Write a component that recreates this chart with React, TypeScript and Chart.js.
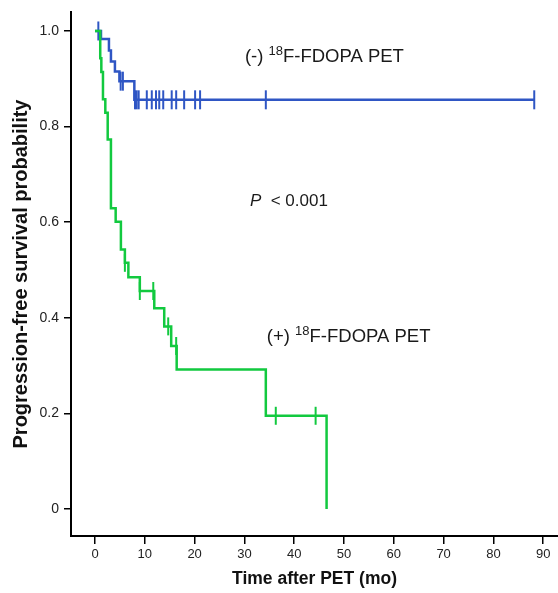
import React, { useEffect, useRef } from "react";
import { Chart, registerables } from "chart.js";

Chart.register(...registerables);

// (-) 18F-FDOPA PET group (blue)
const negTimes = [0, 1.2, 2.8, 3.2, 4.0, 4.9, 7.9, 88.2];
const negSurv = [1.0, 0.983, 0.959, 0.936, 0.915, 0.895, 0.856, 0.856];
const negCensored = [0.67, 5.15, 5.6, 8.03, 8.37, 8.77, 10.4, 11.4, 12.25, 12.9, 13.7, 15.4, 16.3, 17.9, 20.1, 21.1, 34.3, 88.2];

// (+) 18F-FDOPA PET group (green)
const posTimes = [0, 1.05, 1.27, 1.6, 2.07, 2.55, 3.2, 4.15, 5.2, 6.0, 6.7, 9.0, 11.9, 13.9, 15.3, 16.4, 34.3, 46.5];
const posSurv = [1.0, 0.943, 0.914, 0.857, 0.829, 0.773, 0.629, 0.601, 0.543, 0.515, 0.485, 0.456, 0.42, 0.382, 0.341, 0.292, 0.195, 0.0];
const posCensored = [6.0, 9.0, 11.7, 14.7, 16.3, 36.3, 44.3];

const xTicks = [0, 10, 20, 30, 40, 50, 60, 70, 80, 90];
const yTicks = [0, 0.2, 0.4, 0.6, 0.8, 1.0];
const yTickLabels = ["0", "0.2", "0.4", "0.6", "0.8", "1.0"];

const BLUE = "#2f56c4";
const GREEN = "#12c93f";
const FONT = "'Liberation Sans', Arial, sans-serif";

function survAt(times: number[], surv: number[], t: number) {
  let s = surv[0];
  for (let i = 0; i < times.length; i++) {
    if (times[i] <= t) s = surv[i];
  }
  return s;
}

type Part = { text: string; size: number; rise?: number; italic?: boolean };

const annotations: { x: number; y: number; parts: Part[] }[] = [
  {
    x: 30.1,
    y: 0.935,
    parts: [
      { text: "(-) ", size: 18.5 },
      { text: "18", size: 13, rise: 7 },
      { text: "F-FDOPA PET", size: 18.5 },
    ],
  },
  {
    x: 31.1,
    y: 0.634,
    parts: [
      { text: "P", size: 17, italic: true },
      { text: "  < 0.001", size: 17 },
    ],
  },
  {
    x: 34.5,
    y: 0.349,
    parts: [
      { text: "(+) ", size: 18.5 },
      { text: "18", size: 13, rise: 7 },
      { text: "F-FDOPA PET", size: 18.5 },
    ],
  },
];

const annotationPlugin = {
  id: "kmAnnotations",
  afterDraw(chart: any) {
    const { ctx, scales } = chart;
    ctx.save();
    ctx.fillStyle = "#1a1a1a";
    ctx.textBaseline = "alphabetic";
    ctx.textAlign = "left";
    for (const a of annotations) {
      let x = scales.x.getPixelForValue(a.x);
      const y = scales.y.getPixelForValue(a.y);
      for (const p of a.parts) {
        ctx.font = `${p.italic ? "italic " : ""}${p.size}px ${FONT}`;
        ctx.fillText(p.text, x, y - (p.rise || 0));
        x += ctx.measureText(p.text).width;
      }
    }
    ctx.restore();
  },
};

export default function App() {
  const ref = useRef<HTMLCanvasElement | null>(null);

  useEffect(() => {
    if (!ref.current) return;
    const negLine = negTimes.map((t, i) => ({ x: t, y: negSurv[i] }));
    const posLine = posTimes.map((t, i) => ({ x: t, y: posSurv[i] }));
    const negCens = negCensored.map((t) => ({ x: t, y: survAt(negTimes, negSurv, t) }));
    const posCens = posCensored.map((t) => ({ x: t, y: survAt(posTimes, posSurv, t) }));

    const chart = new Chart(ref.current, {
      type: "line",
      data: {
        datasets: [
          {
            data: posLine,
            borderColor: GREEN,
            borderWidth: 2.5,
            stepped: "before",
            pointRadius: 0,
            fill: false,
          },
          {
            type: "scatter",
            data: posCens,
            showLine: false,
            pointStyle: "line",
            rotation: 90,
            pointRadius: 9,
            borderColor: GREEN,
            backgroundColor: GREEN,
            pointBorderWidth: 2,
          },
          {
            data: negLine,
            borderColor: BLUE,
            borderWidth: 2.5,
            stepped: "before",
            pointRadius: 0,
            fill: false,
          },
          {
            type: "scatter",
            data: negCens,
            showLine: false,
            pointStyle: "line",
            rotation: 90,
            pointRadius: 9.5,
            borderColor: BLUE,
            backgroundColor: BLUE,
            pointBorderWidth: 2,
          },
        ] as any,
      },
      plugins: [annotationPlugin],
      options: {
        animation: false,
        responsive: false,
        maintainAspectRatio: false,
        layout: { autoPadding: false, padding: { top: 12, right: 0, left: 0, bottom: 0 } },
        plugins: {
          legend: { display: false },
          tooltip: { enabled: false },
        },
        scales: {
          x: {
            type: "linear",
            min: -4.82,
            max: 92.97,
            afterBuildTicks: (scale: any) => {
              scale.ticks = xTicks.map((v) => ({ value: v }));
            },
            afterFit: (scale: any) => {
              scale.height = 57;
              scale.paddingLeft = 0;
              scale.paddingRight = 0;
            },
            ticks: {
              color: "#222",
              font: { family: FONT, size: 13 },
              padding: 3,
              maxRotation: 0,
              autoSkip: false,
              callback: (v: any) => String(v),
            },
            grid: {
              display: true,
              drawOnChartArea: false,
              drawTicks: true,
              tickLength: 8,
              color: "#000",
              lineWidth: 1.5,
            },
            border: { display: true, color: "#000", width: 2 },
            title: {
              display: true,
              text: "Time after PET (mo)",
              color: "#111",
              font: { family: FONT, size: 17.5, weight: "bold" },
              padding: { top: 0, bottom: 3 },
            },
          },
          y: {
            type: "linear",
            min: -0.0565,
            max: 1.0397,
            afterBuildTicks: (scale: any) => {
              scale.ticks = yTicks.map((v) => ({ value: v }));
            },
            afterFit: (scale: any) => {
              scale.width = 71;
              scale.paddingTop = 0;
              scale.paddingBottom = 0;
            },
            ticks: {
              color: "#222",
              font: { family: FONT, size: 14 },
              padding: 5,
              autoSkip: false,
              callback: (v: any) => {
                const i = yTicks.findIndex((t) => Math.abs(t - Number(v)) < 1e-6);
                return i >= 0 ? yTickLabels[i] : "";
              },
            },
            grid: {
              display: true,
              drawOnChartArea: false,
              drawTicks: true,
              tickLength: 7,
              color: "#000",
              lineWidth: 1.5,
            },
            border: { display: true, color: "#000", width: 2 },
            title: {
              display: true,
              text: "Progression-free survival probability",
              color: "#111",
              font: { family: FONT, size: 20, weight: "bold" },
              padding: { top: 9, bottom: 0 },
            },
          },
        },
      } as any,
    });
    return () => chart.destroy();
  }, []);

  return (
    <div style={{ position: "fixed", left: 0, top: 0, width: 558, height: 593, background: "#fff" }}>
      <canvas ref={ref} width={558} height={593} style={{ display: "block", width: 558, height: 593 }} />
    </div>
  );
}
